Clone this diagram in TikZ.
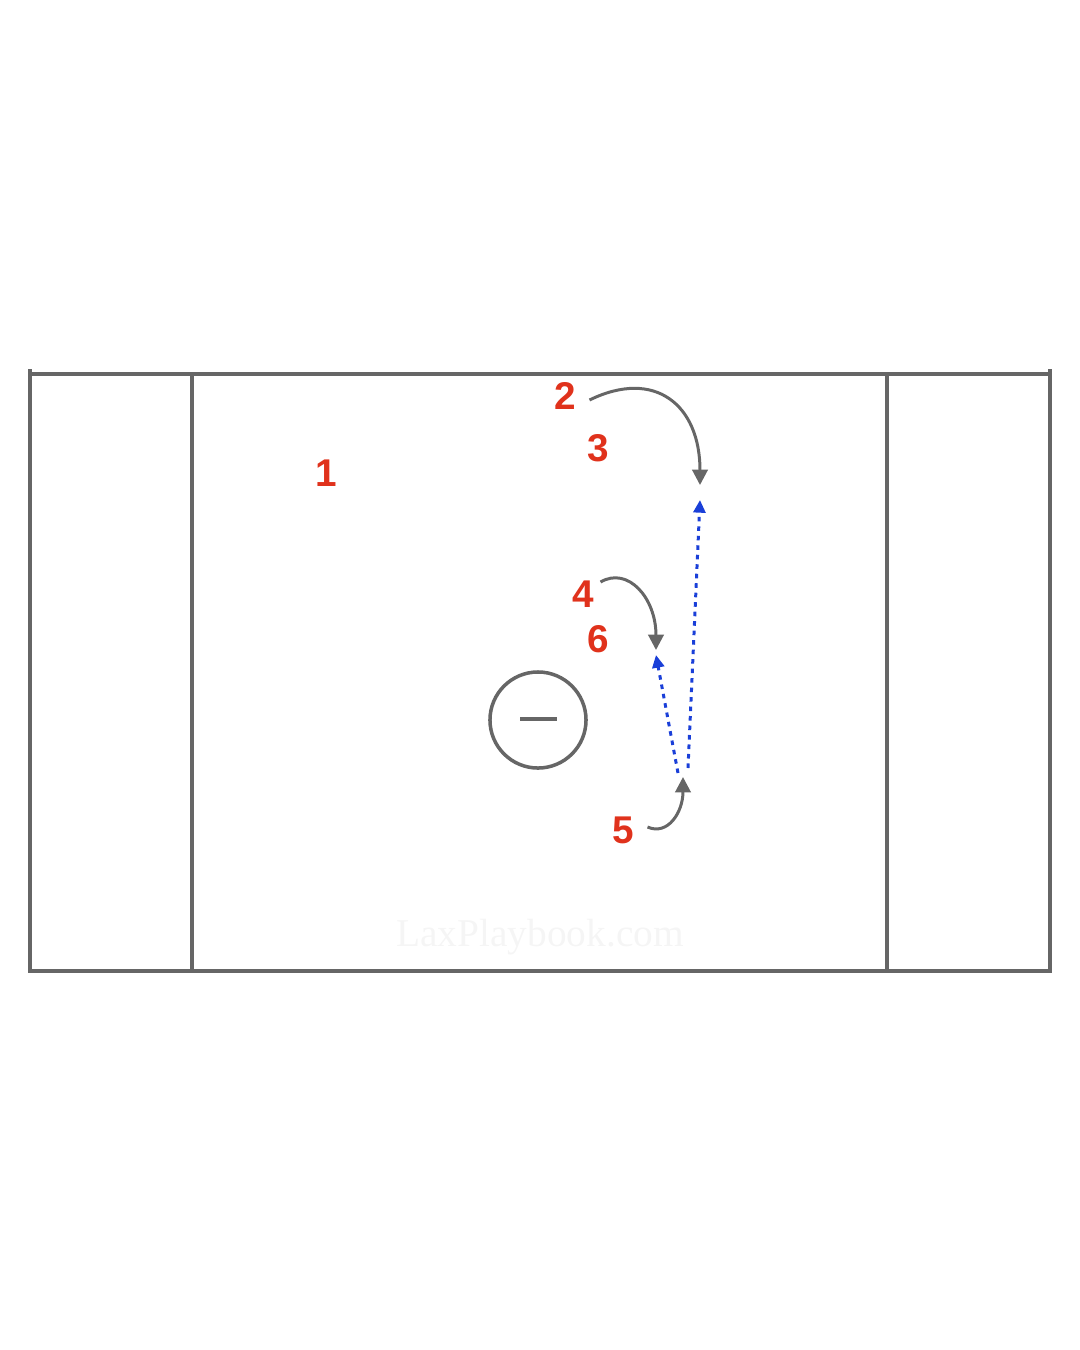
\documentclass[tikz,border=0pt]{standalone}
\usepackage{fontspec}
\setmainfont{Liberation Sans}
\newfontfamily\markfont{Liberation Serif}
\usetikzlibrary{arrows.meta}
\definecolor{linegray}{HTML}{666666}
\definecolor{playred}{HTML}{E0321C}
\definecolor{passblue}{HTML}{1A3FD8}

\begin{document}
\begin{tikzpicture}[x=0.01cm,y=-0.01cm,line width=1pt,
  player/.style={text=playred,font=\fontsize{11}{12}\selectfont\bfseries,inner sep=0pt},
  cut/.style={draw=linegray,line width=0.85pt,-{Triangle[length=4.4pt,width=4.4pt]}},
  pass/.style={draw=passblue,line width=0.85pt,dash pattern=on 1.3pt off 1.4pt,-{Triangle[length=3.6pt,width=3.4pt]}}]

\useasboundingbox (0,0) rectangle (1080,1350);

\draw[linegray] (30,369) -- (30,971) -- (1050,971) -- (1050,369);
\draw[linegray] (30,374) -- (1050,374);
\draw[linegray] (192,374) -- (192,971);
\draw[linegray] (887,374) -- (887,971);

\node[circle,draw=linegray,minimum size=0.96cm,inner sep=0pt](crease) at (538,720){};
\draw[linegray,line width=1.2pt] (520,719) -- (557,719);

\node[text=black!4,font=\markfont\fontsize{11.2}{13}\selectfont](mark) at (540,937){LaxPlaybook.com};

\node[player](p1) at (326,473){1};
\node[player](p2) at (565,396){2};
\node[player](p3) at (598,448){3};
\node[player](p4) at (583,594){4};
\node[player](p6) at (598,639){6};
\node[player](p5) at (623,830){5};

\coordinate (c2) at (700,485);
\coordinate (c4) at (656,650);
\coordinate (c5) at (683,777);
\coordinate (b1) at (688,768);
\coordinate (b2) at (678,773);
\coordinate (r2) at (700,500);
\coordinate (r4) at (656,655);

\draw[cut] (p2.east)++(12,4) .. controls (655,368) and (700,405) .. (c2);
\draw[cut] (p4.east)++(5,-12) .. controls (628,566) and (656,598) .. (c4);
\draw[cut] (p5.east)++(12,-3) .. controls (668,836) and (683,812) .. (c5);

\path (b1) edge[pass] (r2)
      (b2) edge[pass] (r4);

\end{tikzpicture}
\end{document}
